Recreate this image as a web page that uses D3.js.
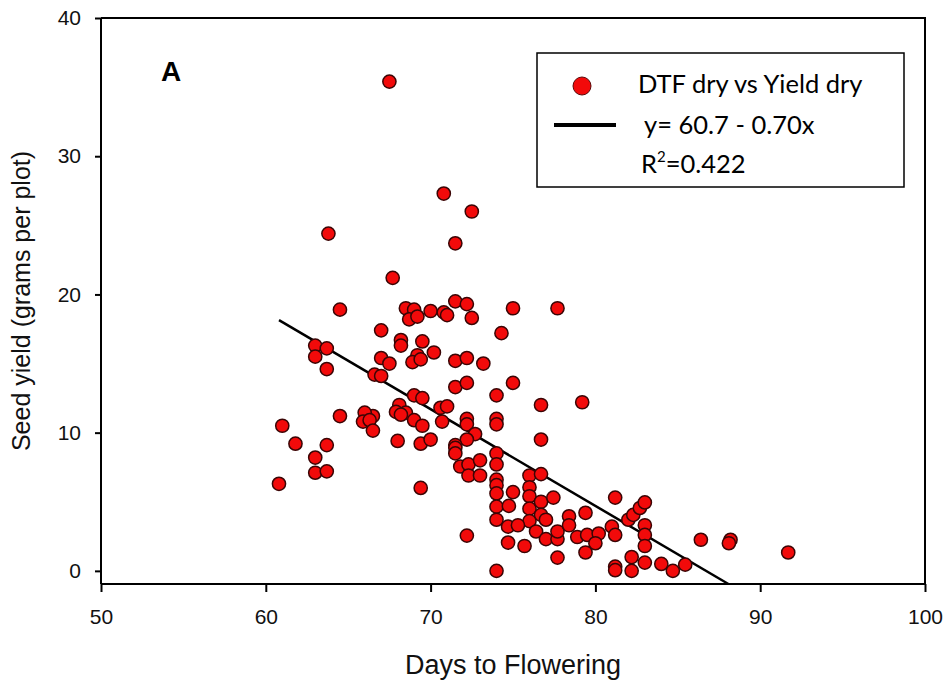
<!DOCTYPE html>
<html>
<head>
<meta charset="utf-8">
<script src="https://cdn.jsdelivr.net/npm/d3@7.9.0/dist/d3.min.js"></script>
<style>
  html, body { margin: 0; padding: 0; background: #fff; }
  svg { display: block; }
  .axis text { font-family: "Liberation Sans", Arial, sans-serif; font-size: 21px; fill: #111; }
  .axis path, .axis line { stroke: #000; stroke-width: 2; }
  .title { font-family: "Liberation Sans", Arial, sans-serif; font-size: 25px; fill: #111; }
  .legend text { font-family: Lato, "Open Sans", sans-serif; font-size: 25.5px; fill: #000; }
</style>
</head>
<body>
<svg id="chart" width="947" height="683"></svg>
<script>
// DTF dry vs Yield dry - scatter with linear fit

// ---- data ----
const daysToFlowering = [
  67.5, 70.8, 72.5, 71.5, 63.8, 67.7, 64.5, 68.5, 69.0, 68.7,
  69.2, 70.0, 70.8, 71.0, 71.5, 72.2, 72.5, 75.0, 77.7, 67.0,
  74.3, 63.0, 63.7, 63.0, 63.7, 68.2, 68.2, 69.5, 70.2, 69.2,
  68.9, 69.4, 67.0, 67.5, 66.6, 67.0, 71.5, 72.2, 73.2, 71.5,
  72.2, 75.0, 74.0, 69.0, 69.5, 76.7, 79.2, 68.1, 67.9, 68.5,
  68.2, 69.0, 69.5, 70.6, 71.0, 70.7, 72.2, 72.2, 72.7, 72.2,
  74.0, 74.0, 66.5, 66.0, 65.9, 66.3, 66.5, 64.5, 61.0, 61.8,
  60.8, 63.0, 63.7, 63.0, 63.7, 68.0, 69.4, 70.0, 69.4, 71.5,
  76.7, 71.5, 71.5, 74.0, 74.0, 71.8, 72.3, 73.0, 72.3, 73.0,
  74.0, 74.0, 74.0, 74.0, 74.0, 75.0, 74.75, 76.0, 76.7, 76.0,
  76.0, 76.0, 76.7, 77.45, 76.7, 77.0, 76.0, 74.7, 75.3, 74.7,
  75.7, 76.4, 77.0, 77.7, 77.7, 78.4, 78.4, 78.9, 79.4, 79.5,
  80.2, 80.0, 81.0, 81.2, 81.2, 82.0, 82.3, 82.7, 83.0, 83.0,
  83.0, 83.0, 72.2, 77.7, 79.4, 74.0, 81.2, 81.2, 82.2, 82.2,
  83.0, 84.0, 84.7, 85.45, 86.4, 88.2, 88.1, 91.7
];
const seedYield = [
  35.4, 27.3, 26.0, 23.7, 24.4, 21.2, 18.9, 19.0, 18.9, 18.2,
  18.4, 18.8, 18.7, 18.5, 19.5, 19.3, 18.3, 19.0, 19.0, 17.4,
  17.2, 16.3, 16.1, 15.5, 14.6, 16.7, 16.3, 16.6, 15.8, 15.6,
  15.1, 15.3, 15.4, 15.0, 14.2, 14.1, 15.2, 15.4, 15.0, 13.3,
  13.6, 13.6, 12.7, 12.7, 12.5, 12.0, 12.2, 12.0, 11.5, 11.45,
  11.3, 10.9, 10.5, 11.8, 11.9, 10.8, 11.0, 10.6, 9.9, 9.5,
  11.0, 10.6, 11.2, 11.45, 10.8, 10.9, 10.15, 11.2, 10.5, 9.2,
  6.3, 8.2, 9.1, 7.1, 7.2, 9.4, 9.2, 9.5, 6.0, 9.1,
  9.5, 8.9, 8.5, 8.5, 7.7, 7.55, 7.7, 8.0, 6.9, 6.9,
  6.6, 6.2, 5.6, 4.65, 3.7, 5.7, 4.7, 6.9, 7.0, 6.05,
  5.4, 4.5, 5.0, 5.3, 4.05, 3.7, 3.6, 3.2, 3.3, 2.05,
  1.8, 2.85, 2.3, 2.3, 2.85, 3.95, 3.3, 2.45, 4.2, 2.6,
  2.7, 2.0, 3.2, 2.6, 5.3, 3.7, 4.05, 4.55, 4.95, 3.3,
  2.6, 1.8, 2.55, 0.96, 1.33, 0.0, 0.3, 0.05, 1.0, 0.0,
  0.6, 0.5, 0.0, 0.45, 2.25, 2.25, 2.0, 1.33
];

// linear fit as printed in the legend
const fitIntercept = 60.7;
const fitSlope = -0.70;
const fitStart = 60.8;

const xTicks = [50, 60, 70, 80, 90, 100];
const yTicks = [0, 10, 20, 30, 40];
const legendLabels = ['DTF dry vs Yield dry', 'y= 60.7 - 0.70x', 'R', '2', '=0.422'];

// ---- layout ----
const margin = { top: 18, right: 22, bottom: 99, left: 101 };
const width = 947, height = 683;
const innerW = width - margin.left - margin.right;
const innerH = height - margin.top - margin.bottom;

const svg = d3.select('#chart');
const g = svg.append('g').attr('transform', `translate(${margin.left},${margin.top})`);

const x = d3.scaleLinear().domain([50, 100]).range([0, innerW]);
const y = d3.scaleLinear().domain([-0.95, 40]).range([innerH, 0]);

// frame (top and right sides)
g.append('path')
  .attr('d', `M0,0H${innerW}V${innerH}`)
  .attr('fill', 'none')
  .attr('stroke', '#000')
  .attr('stroke-width', 2);

// x axis
const xAxis = g.append('g')
  .attr('class', 'axis')
  .attr('transform', `translate(0,${innerH})`)
  .call(d3.axisBottom(x).tickValues(xTicks).tickSize(8).tickPadding(17).tickSizeOuter(0));
xAxis.select('.domain').attr('d', `M0,0H${innerW}`);

// y axis
const yAxis = g.append('g')
  .attr('class', 'axis')
  .call(d3.axisLeft(y).tickValues(yTicks).tickSize(6).tickPadding(14).tickSizeOuter(0));
yAxis.select('.domain').attr('d', `M0,0V${innerH}`);

// axis titles
svg.append('text')
  .attr('class', 'title')
  .attr('x', margin.left + innerW / 2)
  .attr('y', 674)
  .attr('text-anchor', 'middle')
  .attr('font-size', 27)
  .style('font-size', '27px')
  .text('Days to Flowering');

svg.append('text')
  .attr('class', 'title')
  .attr('transform', `translate(30,${margin.top + innerH / 2}) rotate(-90)`)
  .attr('text-anchor', 'middle')
  .text('Seed yield (grams per plot)');

// panel letter
svg.append('text')
  .attr('x', 161)
  .attr('y', 81)
  .attr('font-family', '"Liberation Sans", Arial, sans-serif')
  .attr('font-weight', 'bold')
  .attr('font-size', 28)
  .attr('fill', '#000')
  .text('A');

// regression line, clipped at the bottom of the plot
const fitEnd = (y.domain()[0] - fitIntercept) / fitSlope;
const line = d3.line().x(d => x(d)).y(d => y(fitIntercept + fitSlope * d));
g.append('path')
  .attr('d', line([fitStart, fitEnd]))
  .attr('fill', 'none')
  .attr('stroke', '#000')
  .attr('stroke-width', 2.5);

// points
const points = daysToFlowering.map((d, i) => ({ x: d, y: seedYield[i] }));
g.selectAll('circle.pt')
  .data(points)
  .join('circle')
  .attr('class', 'pt')
  .attr('cx', d => x(d.x))
  .attr('cy', d => y(d.y))
  .attr('r', 6.6)
  .attr('fill', '#f20a0a')
  .attr('stroke', '#3a0505')
  .attr('stroke-width', 1.5);

// ---- legend ----
const legend = svg.append('g').attr('class', 'legend');
legend.append('rect')
  .attr('x', 537).attr('y', 53)
  .attr('width', 367).attr('height', 134)
  .attr('fill', '#fff')
  .attr('stroke', '#000')
  .attr('stroke-width', 1.5);

legend.append('circle')
  .attr('cx', 582).attr('cy', 86)
  .attr('r', 9)
  .attr('fill', '#f20a0a')
  .attr('stroke', '#5a0a0a')
  .attr('stroke-width', 1);

legend.append('line')
  .attr('x1', 554).attr('x2', 616)
  .attr('y1', 125).attr('y2', 125)
  .attr('stroke', '#000')
  .attr('stroke-width', 4);

legend.append('text').attr('x', 638).attr('y', 93).text(legendLabels[0]);
legend.append('text').attr('x', 644).attr('y', 134).text(legendLabels[1]);

const r2 = legend.append('text').attr('x', 641).attr('y', 173);
r2.append('tspan').text(legendLabels[2]);
r2.append('tspan').attr('dy', -11).attr('font-size', 15).style('font-size', '15px').text(legendLabels[3]);
r2.append('tspan').attr('dy', 11).text(legendLabels[4]);
</script>
</body>
</html>
